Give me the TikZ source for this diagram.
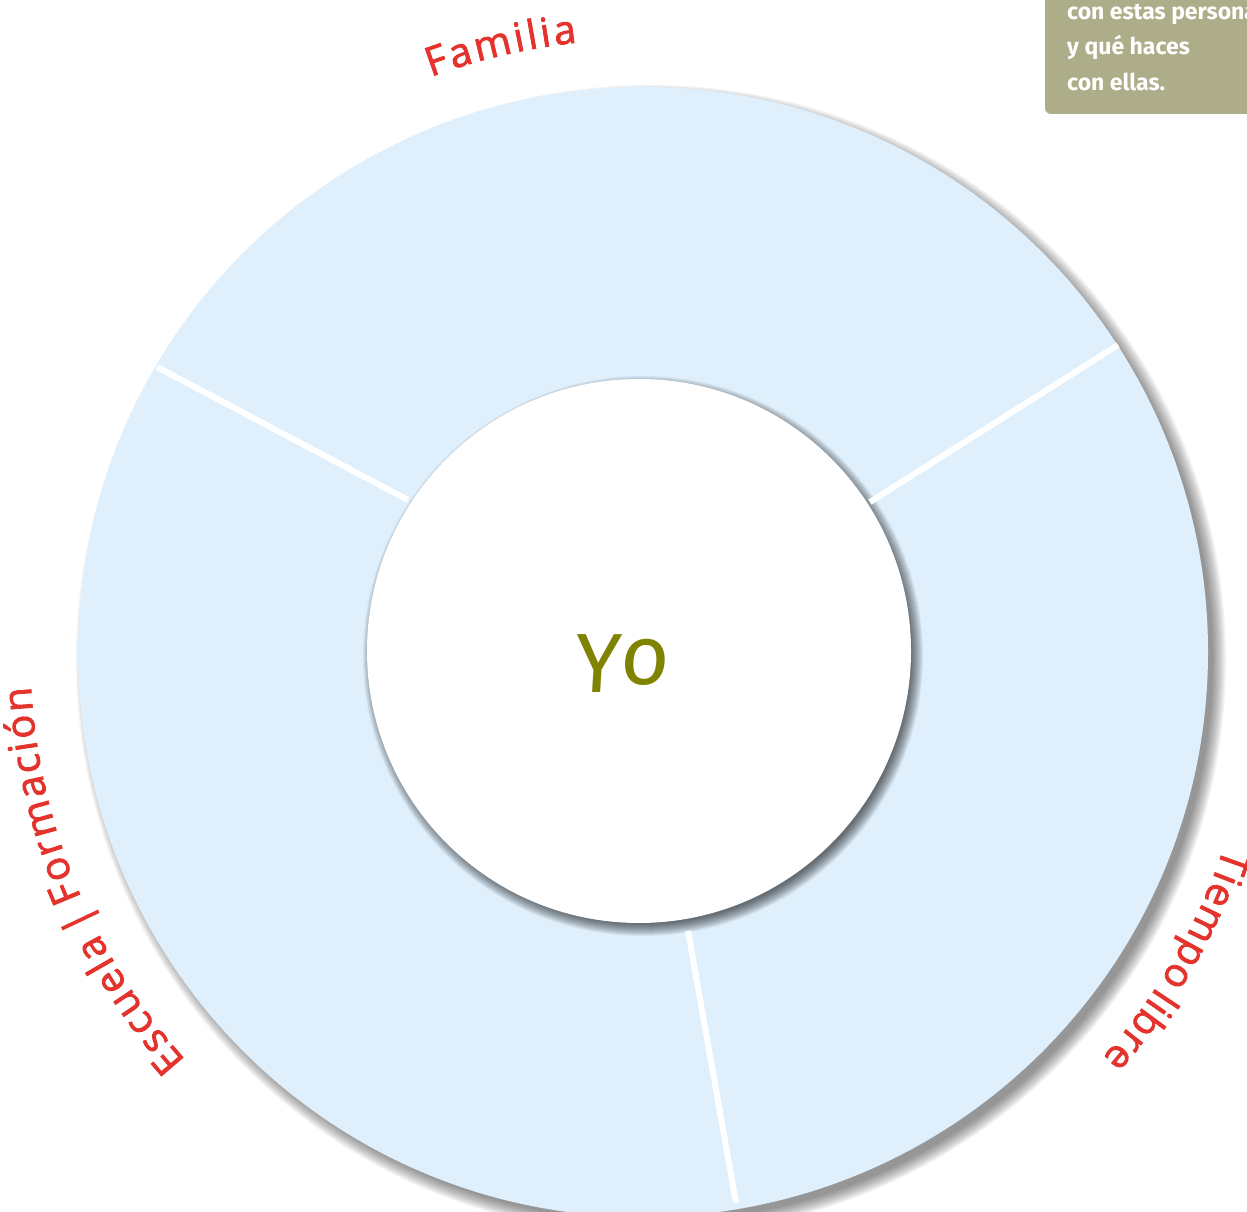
\documentclass[tikz,border=0pt]{standalone}
\usepackage{fontspec}
\setmainfont{Fira Sans}
\newfontfamily\yofont[FakeSlant=0.06]{Fira Sans}
\newfontfamily\lblfam[FakeBold=2]{Open Sans}
\usetikzlibrary{decorations.text}
\definecolor{ringblue}{RGB}{223,240,252}
\definecolor{labelred}{RGB}{228,50,44}
\definecolor{boxolive}{RGB}{173,173,138}
\definecolor{yoolive}{RGB}{128,131,0}
\newcommand{\lblfont}{\lblfam\fontsize{40}{44}\selectfont}
\begin{document}
\begin{tikzpicture}[x=1pt,y=1pt,
  divider/.style={white, line width=6pt},
  ringlabel/.style={decorate, decoration={text along path, text align=center, text color=labelred, text={#1}}},
  boxtext/.style={font=\bfseries\fontsize{23}{28}\selectfont, text=white, inner sep=0pt, anchor=base west}]
\useasboundingbox (0,0) rectangle (1247,1212);
\coordinate (oc) at (643,560);
\coordinate (ic) at (639,561);
% outer shadow
\foreach \k in {0,...,11}{
  \fill[black, opacity=0.045, shift={(oc)}] (8,-8) circle[radius={575-1.2*\k}];
}
\fill[ringblue] (oc) circle[radius=565];
% inner shadow
\foreach \k in {0,...,12}{
  \fill[black, opacity=0.055, shift={(ic)}] (4,-5) circle[radius={280-\k}];
}
% dividers
\coordinate (l1a) at (408,712);
\coordinate (l1b) at (157,845);
\coordinate (l2a) at (870,710);
\coordinate (l2b) at (1118,867);
\coordinate (l3a) at (688,281);
\coordinate (l3b) at (736,9);
\draw[divider] (l1a) -- (l1b);
\draw[divider] (l2a) -- (l2b);
\draw[divider] (l3a) -- (l3b);
% inner circle
\node[circle, fill=white, minimum size=544pt, inner sep=0pt] (inner) at (ic) {};
\node[font=\yofont\fontsize{84}{90}\selectfont, text=yoolive, anchor=base, inner sep=0pt] (yo) at (621,519) {Y\raisebox{8pt}{o}};
% ring labels
\path[shift={(oc)}, ringlabel={|\lblfont|{F\kern3pt}{a\kern3pt}{m\kern3pt}{i\kern3pt}{l\kern3pt}{i\kern3pt}{a}}]
  (133.2:613) arc[start angle=133.2, end angle=73.2, radius=613];
\path[shift={(oc)}, ringlabel={|\lblfont|{T\kern1.5pt}{i\kern1.5pt}{e\kern1.5pt}{m\kern1.5pt}{p\kern1.5pt}{o\kern1.5pt}{\kern6pt}{l\kern1.5pt}{i\kern1.5pt}{b\kern1.5pt}{r\kern1.5pt}{e}}]
  (0:613) arc[start angle=0, end angle=-60, radius=613];
\path[shift={(oc)}, ringlabel={|\lblfont|{E\kern2.5pt}{s\kern2.5pt}{c\kern2.5pt}{u\kern2.5pt}{e\kern2.5pt}{l\kern2.5pt}{a\kern2.5pt}{\kern6pt}{\textbar\kern2.5pt}{\kern6pt}{F\kern2.5pt}{o\kern2.5pt}{r\kern2.5pt}{m\kern2.5pt}{a\kern2.5pt}{c\kern2.5pt}{i\kern2.5pt}{ó\kern2.5pt}{n}}]
  (242.5:613) arc[start angle=242.5, end angle=162.5, radius=613];
% note box
\fill[boxolive, rounded corners=6pt] (1045,1098) rectangle (1280,1240);
\node[boxtext] (t1) at (1067,1192) {con estas persona};
\node[boxtext] (t2) at (1067,1157) {y qué haces};
\node[boxtext] (t3) at (1067,1121.3) {con ellas.};
\end{tikzpicture}
\end{document}
